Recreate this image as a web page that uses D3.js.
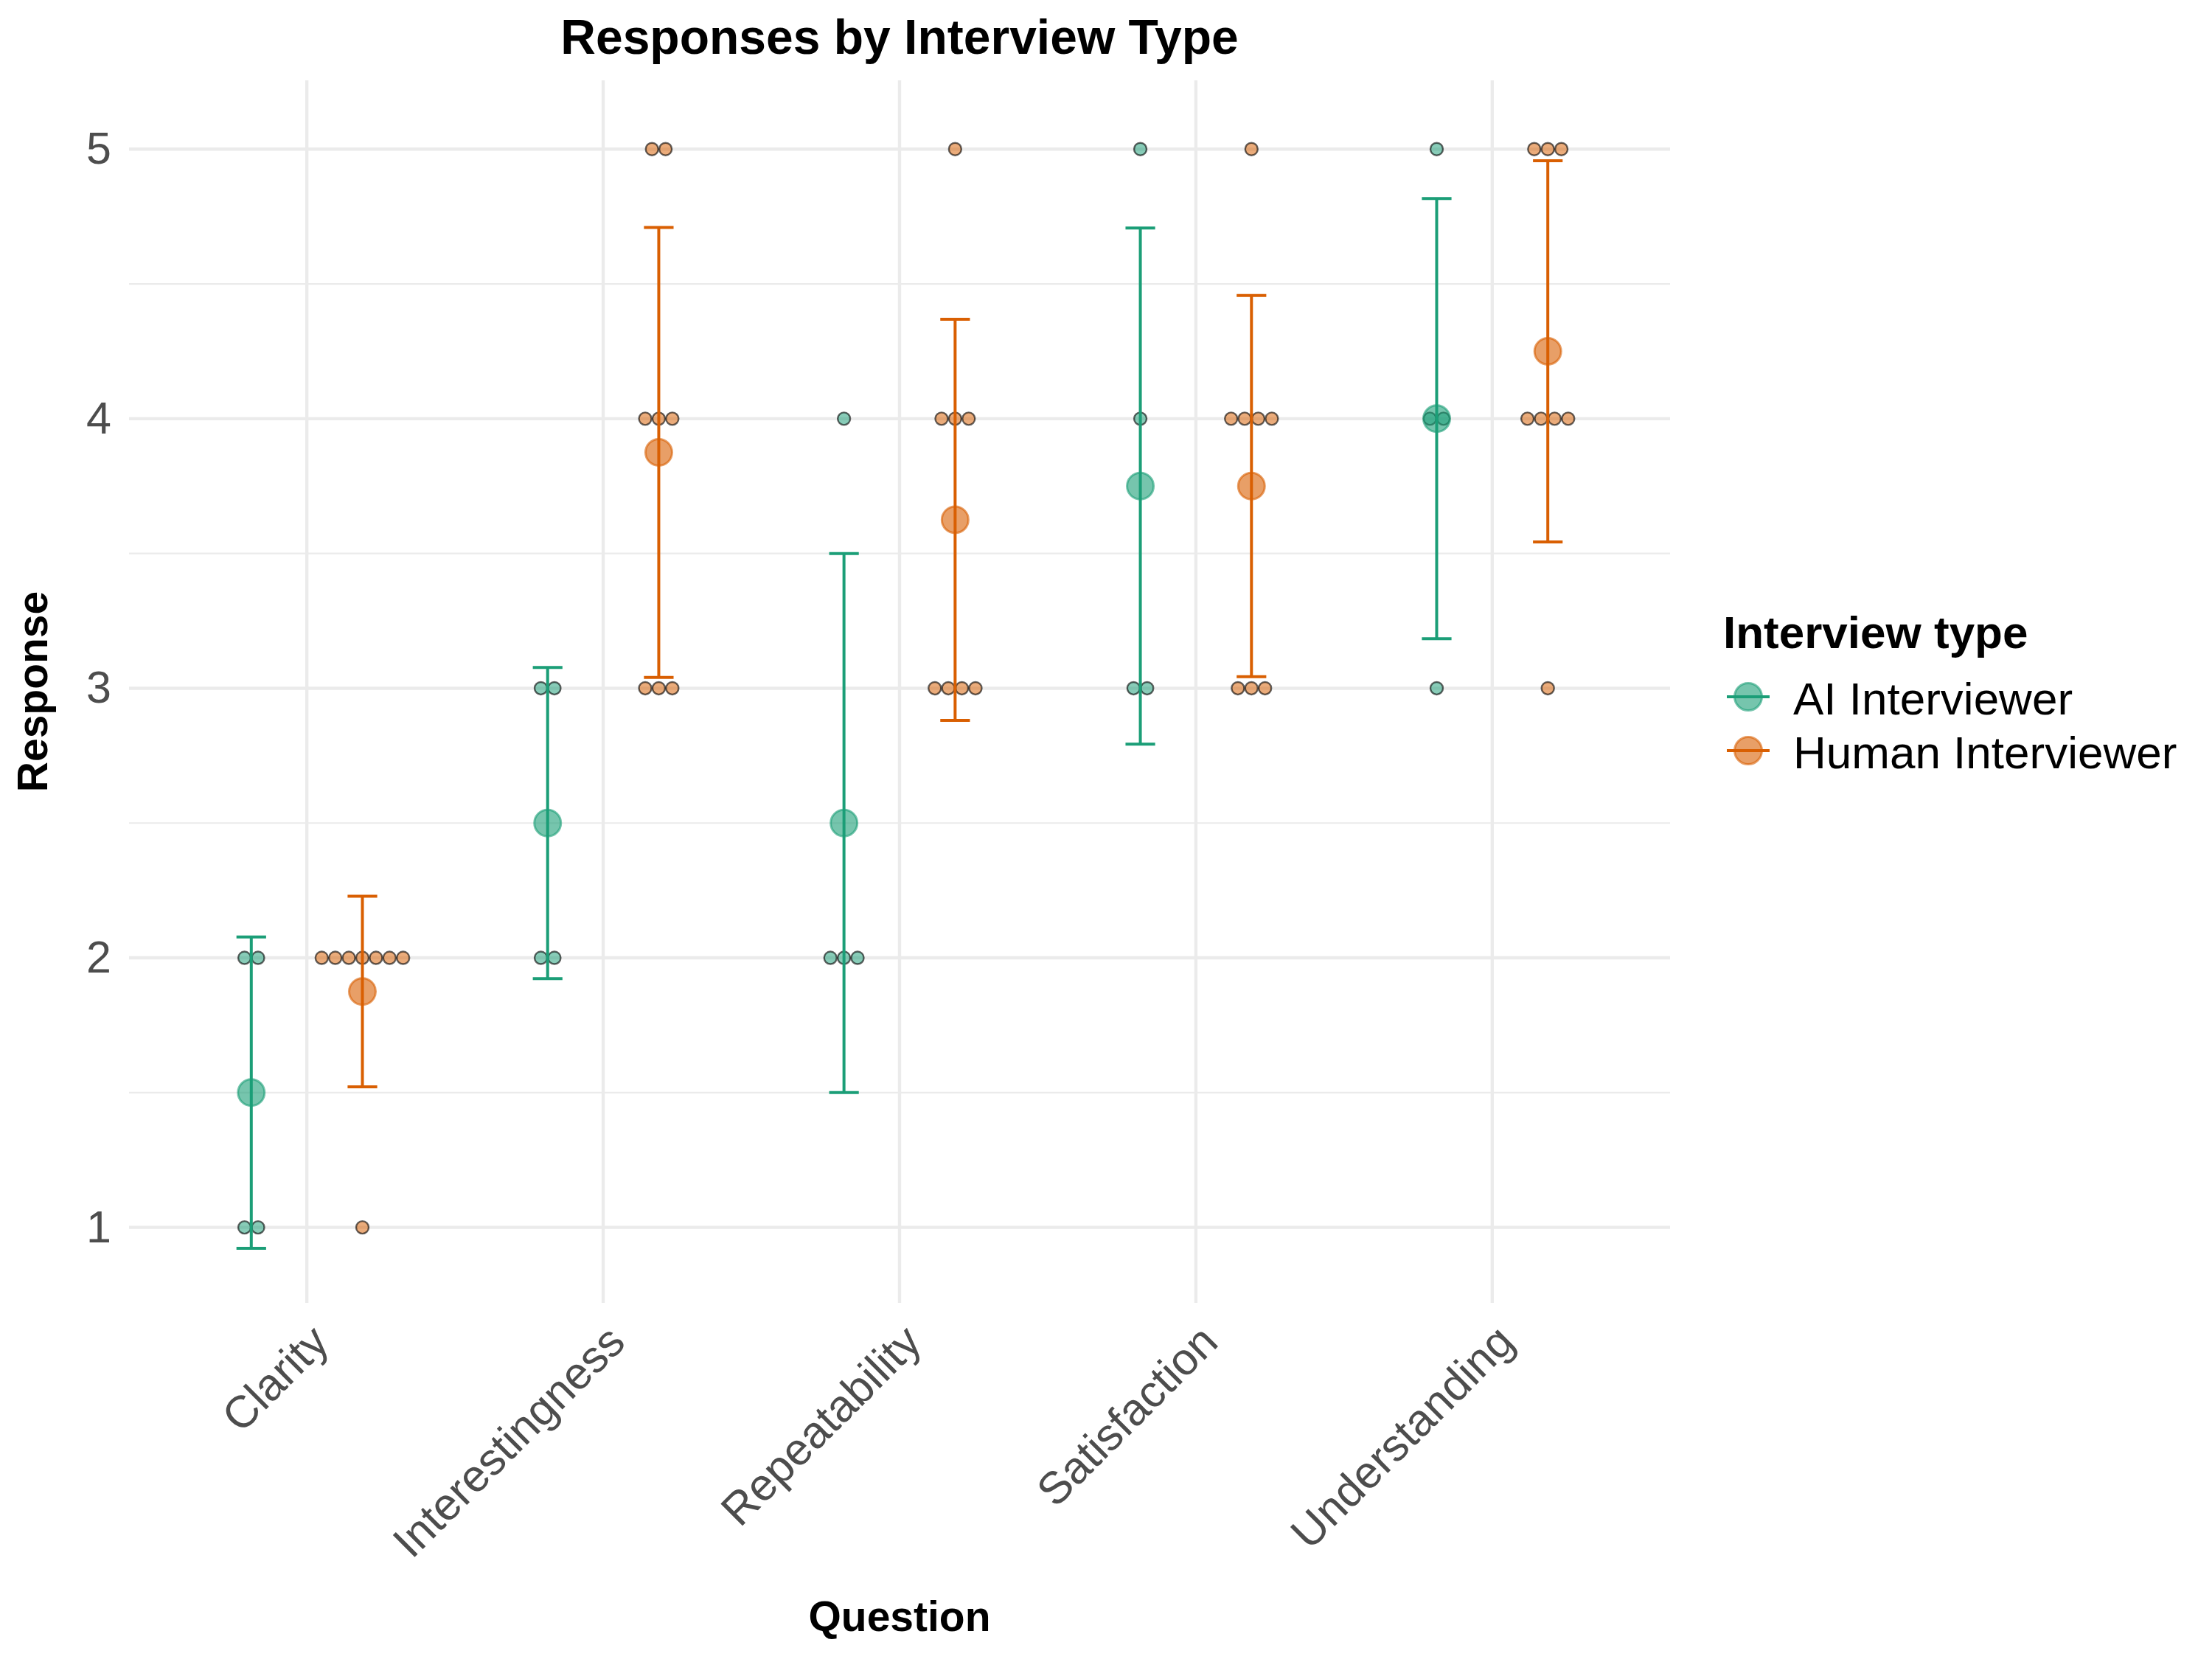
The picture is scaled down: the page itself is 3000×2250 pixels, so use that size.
<!DOCTYPE html>
<html>
<head>
<meta charset="utf-8">
<script src="https://cdn.jsdelivr.net/npm/d3@7"></script>
<style>
    body { margin: 0; background: #fff; }
    svg { font-family: "Liberation Sans", Arial, Helvetica, sans-serif; }
</style>
</head>
<body>
<svg id="chart"></svg>
<script>
const questions = ["Clarity", "Interestingness", "Repeatability", "Satisfaction", "Understanding"];
const interviewTypes = ["AI Interviewer", "Human Interviewer"];

// single answers (1-5) per question, same order as questions
const aiResponses = [
    [2, 2, 1, 1],
    [3, 3, 2, 2],
    [4, 2, 2, 2],
    [5, 4, 3, 3],
    [5, 4, 4, 3]
];
const humanResponses = [
    [2, 2, 2, 2, 2, 2, 2, 1],
    [5, 5, 4, 4, 4, 3, 3, 3],
    [5, 4, 4, 4, 3, 3, 3, 3],
    [5, 4, 4, 4, 4, 3, 3, 3],
    [5, 5, 5, 4, 4, 4, 4, 3]
];

const yTicks = [1, 2, 3, 4, 5];
const typeColors = ["#1b9e77", "#d95f02"];

class ResponseChart {
    margin = {
        top: 109, right: 735, bottom: 483, left: 175
    }

    constructor(svg, width = 3000, height = 2250) {
        this.svg = svg;
        this.width = width;
        this.height = height;
    }

    initialize() {
        this.svg = d3.select(this.svg)
            .attr("width", this.width)
            .attr("height", this.height);

        this.svg.append("rect")
            .attr("width", this.width)
            .attr("height", this.height)
            .attr("fill", "#fff");

        this.grid = this.svg.append("g");
        this.xAxis = this.svg.append("g");
        this.yAxis = this.svg.append("g");
        this.container = this.svg.append("g");
        this.legend = this.svg.append("g");

        this.xScale = d3.scalePoint()
            .domain(questions)
            .range([this.margin.left, this.width - this.margin.right])
            .padding(0.6);
        this.yScale = d3.scaleLinear()
            .domain([0.72, 5.255])
            .range([this.height - this.margin.bottom, this.margin.top]);
        this.zScale = d3.scaleOrdinal()
            .domain(interviewTypes)
            .range(typeColors);
    }

    update() {
        const series = [aiResponses, humanResponses];
        const step = this.xScale.step();
        const dodge = step * 0.1875;
        const spacing = 18.4;

        const groups = [];
        interviewTypes.forEach((type, ti) => {
            questions.forEach((q, qi) => {
                const values = series[ti][qi];
                groups.push({
                    type: type,
                    question: q,
                    x: this.xScale(q) + (ti === 0 ? -dodge : dodge),
                    values: values,
                    mean: d3.mean(values),
                    sd: d3.deviation(values)
                });
            });
        });

        // answers with the same value sit side by side
        const dots = [];
        groups.forEach(g => {
            d3.rollups(g.values, v => v.length, d => d).forEach(([value, n]) => {
                for (let j = 0; j < n; j++) {
                    dots.push({type: g.type, value: value, x: g.x + (j - (n - 1) / 2) * spacing});
                }
            });
        });

        const left = this.margin.left, right = this.width - this.margin.right;
        const top = this.margin.top, bottom = this.height - this.margin.bottom;
        const minor = yTicks.slice(1).map((t, i) => (t + yTicks[i]) / 2);

        this.grid.selectAll(".minor")
            .data(minor)
            .enter()
            .append("line")
                .attr("class", "minor")
                .attr("x1", left).attr("x2", right)
                .attr("y1", d => this.yScale(d)).attr("y2", d => this.yScale(d))
                .attr("stroke", "#ebebeb")
                .attr("stroke-width", 2.2);

        this.grid.selectAll(".major-y")
            .data(yTicks)
            .enter()
            .append("line")
                .attr("class", "major-y")
                .attr("x1", left).attr("x2", right)
                .attr("y1", d => this.yScale(d)).attr("y2", d => this.yScale(d))
                .attr("stroke", "#ebebeb")
                .attr("stroke-width", 4.4);

        this.grid.selectAll(".major-x")
            .data(questions)
            .enter()
            .append("line")
                .attr("class", "major-x")
                .attr("x1", d => this.xScale(d)).attr("x2", d => this.xScale(d))
                .attr("y1", top).attr("y2", bottom)
                .attr("stroke", "#ebebeb")
                .attr("stroke-width", 4.4);

        this.yAxis
            .call(d3.axisLeft(this.yScale).tickValues(yTicks).tickFormat(d3.format("d")).tickSize(0).tickPadding(24))
            .attr("transform", `translate(${left}, 0)`);
        this.yAxis.select(".domain").remove();
        this.yAxis.selectAll("text")
            .attr("font-size", 61)
            .attr("font-family", "Liberation Sans, Arial, sans-serif")
            .attr("fill", "#4d4d4d");

        this.xAxis
            .attr("transform", `translate(0, ${bottom})`)
            .call(d3.axisBottom(this.xScale).tickSize(0));
        this.xAxis.select(".domain").remove();
        this.xAxis.selectAll("text")
            .attr("x", 0)
            .attr("y", 0)
            .attr("dy", "0.75em")
            .attr("text-anchor", "end")
            .attr("transform", "translate(0, 24) rotate(-45)")
            .attr("font-size", 61)
            .attr("font-family", "Liberation Sans, Arial, sans-serif")
            .attr("fill", "#4d4d4d");

        // raw answers
        this.container.selectAll(".dot")
            .data(dots)
            .enter()
            .append("circle")
                .attr("class", "dot")
                .attr("cx", d => d.x)
                .attr("cy", d => this.yScale(d.value))
                .attr("r", 8.5)
                .attr("fill", d => this.zScale(d.type))
                .attr("fill-opacity", 0.52)
                .attr("stroke", "#000")
                .attr("stroke-opacity", 0.6)
                .attr("stroke-width", 2.4);

        // group means
        this.container.selectAll(".mean")
            .data(groups)
            .enter()
            .append("circle")
                .attr("class", "mean")
                .attr("cx", d => d.x)
                .attr("cy", d => this.yScale(d.mean))
                .attr("r", 18)
                .attr("fill", d => this.zScale(d.type))
                .attr("fill-opacity", 0.6)
                .attr("stroke", d => this.zScale(d.type))
                .attr("stroke-opacity", 0.6)
                .attr("stroke-width", 3);

        // mean +/- sd
        const cap = step * 0.05;
        const bars = this.container.selectAll(".bar")
            .data(groups)
            .enter()
            .append("g")
                .attr("class", "bar")
                .attr("stroke", d => this.zScale(d.type))
                .attr("stroke-width", 4)
                .attr("fill", "none");
        bars.append("line")
            .attr("x1", d => d.x).attr("x2", d => d.x)
            .attr("y1", d => this.yScale(d.mean - d.sd))
            .attr("y2", d => this.yScale(d.mean + d.sd));
        bars.append("line")
            .attr("x1", d => d.x - cap).attr("x2", d => d.x + cap)
            .attr("y1", d => this.yScale(d.mean + d.sd))
            .attr("y2", d => this.yScale(d.mean + d.sd));
        bars.append("line")
            .attr("x1", d => d.x - cap).attr("x2", d => d.x + cap)
            .attr("y1", d => this.yScale(d.mean - d.sd))
            .attr("y2", d => this.yScale(d.mean - d.sd));

        // titles
        this.svg.append("text")
            .attr("x", (left + right) / 2)
            .attr("y", 73)
            .attr("text-anchor", "middle")
            .attr("font-size", 66)
            .attr("font-weight", "bold")
            .text("Responses by Interview Type");

        this.svg.append("text")
            .attr("x", (left + right) / 2)
            .attr("y", 2212)
            .attr("text-anchor", "middle")
            .attr("font-size", 57)
            .attr("font-weight", "bold")
            .text("Question");

        this.svg.append("text")
            .attr("transform", `translate(64, ${(top + bottom) / 2}) rotate(-90)`)
            .attr("text-anchor", "middle")
            .attr("font-size", 57)
            .attr("font-weight", "bold")
            .text("Response");

        // legend
        this.legend.attr("transform", "translate(2337, 879)");
        this.legend.append("text")
            .attr("font-size", 62)
            .attr("font-weight", "bold")
            .text("Interview type");

        const keys = this.legend.selectAll(".key")
            .data(this.zScale.domain())
            .enter()
            .append("g")
                .attr("class", "key")
                .attr("transform", (d, i) => `translate(0, ${66 + i * 73})`);
        keys.append("circle")
            .attr("cx", 34)
            .attr("r", 18.5)
            .attr("fill", d => this.zScale(d))
            .attr("fill-opacity", 0.6)
            .attr("stroke", d => this.zScale(d))
            .attr("stroke-opacity", 0.6)
            .attr("stroke-width", 3);
        keys.append("line")
            .attr("x1", 5).attr("x2", 63)
            .attr("stroke", d => this.zScale(d))
            .attr("stroke-width", 4);
        keys.append("text")
            .attr("x", 95)
            .attr("y", 24)
            .attr("font-size", 62)
            .text(d => d);
    }
}

const chart = new ResponseChart(document.getElementById("chart"));
chart.initialize();
chart.update();
</script>
</body>
</html>
